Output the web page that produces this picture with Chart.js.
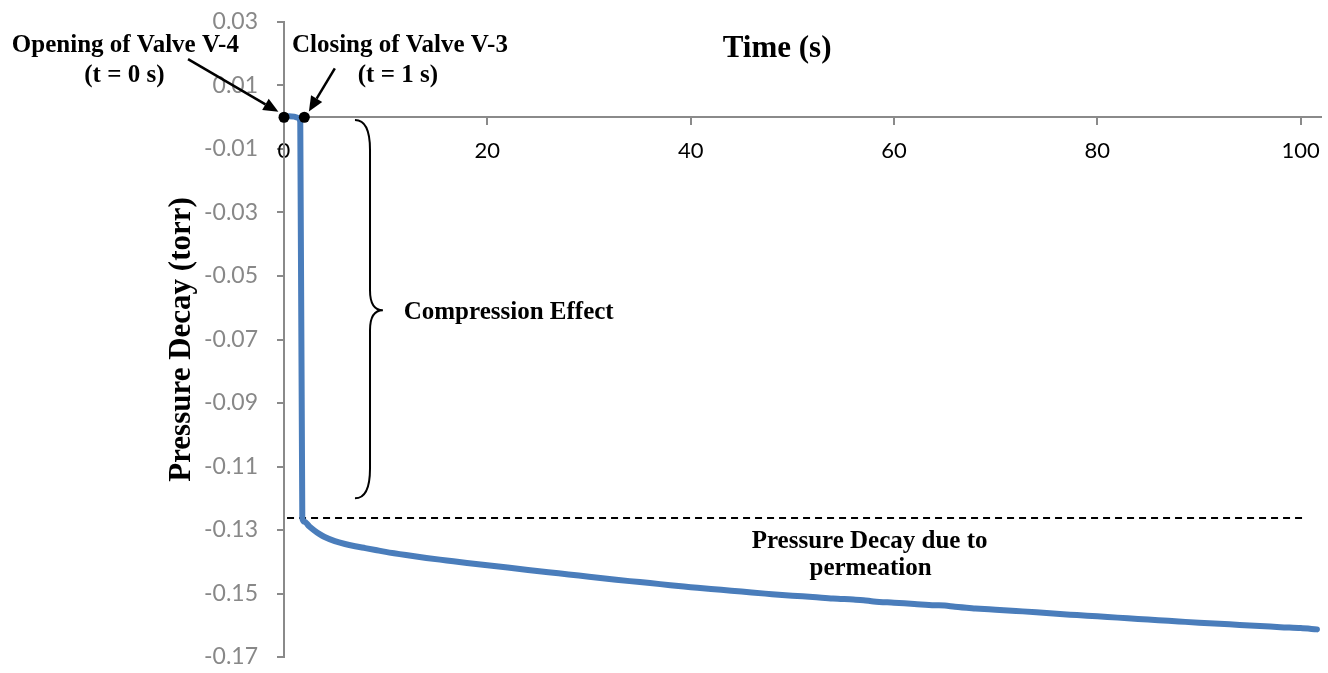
<!DOCTYPE html>
<html><head><meta charset="utf-8">
<script src="https://cdn.jsdelivr.net/npm/chart.js@4/dist/chart.umd.min.js"></script>
<style>html,body{margin:0;padding:0;background:#fff;overflow:hidden}</style>
</head><body>
<canvas id="c" width="1328" height="673"></canvas>
<script>
// ---- data ----
const timeS = [0, 0.5, 1.0, 1.4, 1.6, 1.8, 2.0, 2.5, 3.0, 3.5, 4, 5, 6, 7, 8, 9, 10,
  12, 14, 16, 18, 20, 22, 24, 26, 28, 30, 32, 34, 36, 38, 40, 42, 44, 46, 48, 50,
  52, 54, 56, 57, 58, 60, 62, 64, 65, 66, 68, 70, 72, 74, 76, 78, 80, 82, 84, 86,
  88, 90, 92, 94, 96, 98, 100, 101.6];
const pressureTorr = [0, 0.0003, 0.0002, -0.0002, -0.0015, -0.1262, -0.1274, -0.1289, -0.1302, -0.1313, -0.1322, -0.1335, -0.1344, -0.1351, -0.1357, -0.1363, -0.1369,
  -0.1379, -0.1388, -0.1396, -0.1404, -0.1411, -0.1418, -0.1426, -0.1433, -0.1440, -0.1447, -0.1454, -0.1461, -0.1467, -0.1474, -0.1480, -0.1486, -0.1491, -0.1497, -0.1502, -0.1507,
  -0.1511, -0.1516, -0.1519, -0.1521, -0.1525, -0.1529, -0.1533, -0.1537, -0.1538, -0.1542, -0.1547, -0.1551, -0.1555, -0.1559, -0.1564, -0.1568, -0.1572, -0.1576, -0.1580, -0.1584,
  -0.1588, -0.1592, -0.1595, -0.1599, -0.1602, -0.1606, -0.1609, -0.1613];
const xTickValues = [0, 20, 40, 60, 80, 100];
const yTickValues = [-0.17, -0.15, -0.13, -0.11, -0.09, -0.07, -0.05, -0.03, -0.01, 0.01, 0.03];
const eventTimes = [0, 2.0];
const eventPressures = [0, 0];
const compressionLevel = -0.1262;
const xTitle = 'Time (s)';
const yTitle = 'Pressure Decay (torr)';

const serif = '"Liberation Serif", "Times New Roman", serif';

const annotations = {
  id: 'annotations',
  beforeDatasetsDraw(chart) {
    const {ctx, scales: {x, y}} = chart;
    const X = v => x.getPixelForValue(v), Y = v => y.getPixelForValue(v);
    ctx.save();
    ctx.setLineDash([7, 5]);
    ctx.lineWidth = 2;
    ctx.strokeStyle = '#000';
    ctx.beginPath();
    ctx.moveTo(X(0.3), Y(compressionLevel));
    ctx.lineTo(X(100.2), Y(compressionLevel));
    ctx.stroke();
    ctx.restore();
  },
  afterDatasetsDraw(chart) {
    const {ctx, scales: {x, y}} = chart;
    const X = v => x.getPixelForValue(v), Y = v => y.getPixelForValue(v);
    ctx.save();
    // event dots
    ctx.fillStyle = '#000';
    eventTimes.forEach((t, i) => {
      ctx.beginPath();
      ctx.arc(X(t), Y(eventPressures[i]), 5.5, 0, Math.PI * 2);
      ctx.fill();
    });
    // arrows
    function arrow(t1, v1, t2, v2) {
      const x1 = X(t1), y1 = Y(v1), x2 = X(t2), y2 = Y(v2);
      const a = Math.atan2(y2 - y1, x2 - x1);
      const L = 15, W = 6.5;
      const bx = x2 - L * Math.cos(a), by = y2 - L * Math.sin(a);
      ctx.lineWidth = 2.5;
      ctx.strokeStyle = '#000';
      ctx.beginPath(); ctx.moveTo(x1, y1); ctx.lineTo(bx, by); ctx.stroke();
      ctx.beginPath();
      ctx.moveTo(x2, y2);
      ctx.lineTo(bx + W * Math.sin(a), by - W * Math.cos(a));
      ctx.lineTo(bx - W * Math.sin(a), by + W * Math.cos(a));
      ctx.closePath(); ctx.fill();
    }
    arrow(-9.44, 0.0183, -0.55, 0.0017);
    arrow(5.0, 0.0154, 2.45, 0.0018);
    // brace
    const bx0 = X(6.98), bx1 = X(8.46), bx2 = X(9.73);
    ctx.lineWidth = 2;
    ctx.beginPath();
    ctx.moveTo(bx0, Y(-0.0009));
    ctx.quadraticCurveTo(bx1, Y(-0.0009), bx1, Y(-0.0103));
    ctx.lineTo(bx1, Y(-0.0545));
    ctx.quadraticCurveTo(bx1, Y(-0.0608), bx2, Y(-0.0608));
    ctx.quadraticCurveTo(bx1, Y(-0.0608), bx1, Y(-0.0671));
    ctx.lineTo(bx1, Y(-0.1106));
    ctx.quadraticCurveTo(bx1, Y(-0.1200), bx0, Y(-0.1200));
    ctx.stroke();
    // texts
    ctx.textAlign = 'center';
    ctx.textBaseline = 'middle';
    ctx.font = 'bold 31px ' + serif;
    ctx.fillText(xTitle, X(48.5), Y(0.0214));
    ctx.font = 'bold 25px ' + serif;
    ctx.fillText('Opening of Valve V-4', X(-15.6), Y(0.0227));
    ctx.fillText('(t = 0 s)', X(-15.7), Y(0.0132));
    ctx.fillText('Closing of Valve V-3', X(11.4), Y(0.0227));
    ctx.fillText('(t = 1 s)', X(11.2), Y(0.0132));
    ctx.fillText('Compression Effect', X(22.1), Y(-0.0614));
    ctx.fillText('Pressure Decay due to', X(57.6), Y(-0.1336));
    ctx.fillText('permeation', X(57.7), Y(-0.1422));
    ctx.restore();
  }
};

new Chart(document.getElementById('c'), {
  type: 'line',
  data: {
    datasets: [{
      data: timeS.map((t, i) => ({x: t, y: pressureTorr[i]})),
      borderColor: '#4a7dbb',
      borderWidth: 6,
      pointRadius: 0,
      cubicInterpolationMode: 'monotone',
      borderJoinStyle: 'round',
      borderCapStyle: 'round',
      fill: false
    }]
  },
  options: {
    responsive: false,
    animation: false,
    devicePixelRatio: 1,
    layout: {padding: {left: 0, top: 22, right: 7, bottom: 16}},
    plugins: {legend: {display: false}, tooltip: {enabled: false}},
    scales: {
      x: {
        type: 'linear',
        position: {y: 0},
        min: 0, max: 102,
        afterBuildTicks: s => { s.ticks = xTickValues.map(v => ({value: v})); },
        afterFit: s => { s.height = 0; s.paddingLeft = 0; s.paddingRight = 0; s.paddingTop = 0; s.paddingBottom = 0; },
        border: {color: '#8a8a8a', width: 2},
        grid: {drawOnChartArea: false, drawTicks: true, tickLength: 7, color: '#8a8a8a', lineWidth: 2},
        ticks: {color: '#000', padding: 13, font: {family: 'Lato', size: 22}, maxRotation: 0,
          callback: v => String(v)}
      },
      y: {
        type: 'linear',
        position: 'left',
        min: -0.17, max: 0.03,
        afterBuildTicks: s => { s.ticks = yTickValues.map(v => ({value: v})); },
        afterFit: s => { s.width = 284; s.paddingTop = 0; s.paddingBottom = 0; },
        border: {color: '#8a8a8a', width: 2},
        grid: {drawOnChartArea: false, drawTicks: true, tickLength: 7, color: '#8a8a8a', lineWidth: 2},
        ticks: {color: '#888888', padding: 19, font: {family: 'Lato', size: 23},
          callback: v => Number(v).toFixed(2)},
        title: {display: true, text: yTitle, color: '#000',
          font: {family: serif, size: 31, weight: 'bold'}, padding: {top: 163, bottom: 0}}
      }
    }
  },
  plugins: [annotations]
});
</script>
</body></html>
